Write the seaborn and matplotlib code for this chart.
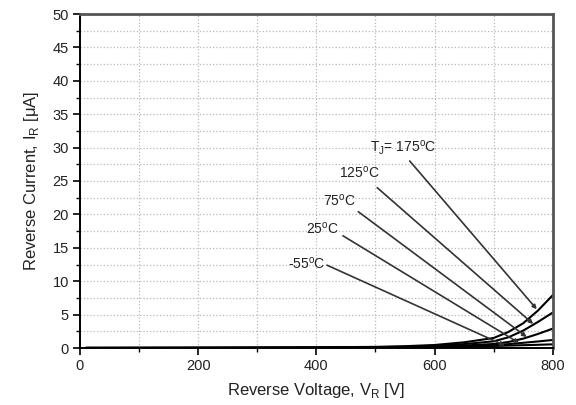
import matplotlib
matplotlib.use("Agg")
import matplotlib.pyplot as plt
from matplotlib.ticker import MultipleLocator
import numpy as np
import pandas as pd
import seaborn as sns

# ---- data ----
voltage = [10, 100, 200, 300, 400, 500, 550, 600, 650, 700, 725, 750, 775, 800]
temps = ["175", "125", "75", "25", "-55"]
ir_175 = [0.02, 0.03, 0.05, 0.07, 0.10, 0.17, 0.27, 0.45, 0.85, 1.5, 2.4, 3.7, 5.6, 7.9]
ir_125 = [0.01, 0.02, 0.03, 0.05, 0.07, 0.12, 0.19, 0.32, 0.58, 1.0, 1.6, 2.6, 3.9, 5.3]
ir_75 = [0.01, 0.015, 0.02, 0.03, 0.05, 0.09, 0.14, 0.22, 0.37, 0.6, 0.9, 1.4, 2.1, 2.9]
ir_25 = [0.01, 0.012, 0.015, 0.02, 0.035, 0.06, 0.10, 0.16, 0.26, 0.4, 0.58, 0.78, 0.98, 1.2]
ir_m55 = [0.005, 0.01, 0.012, 0.016, 0.03, 0.05, 0.08, 0.13, 0.2, 0.3, 0.36, 0.42, 0.48, 0.55]
labels = [r"T$_\mathregular{J}$= 175$^\mathregular{o}$C", r"125$^\mathregular{o}$C",
          r"75$^\mathregular{o}$C", r"25$^\mathregular{o}$C", r"-55$^\mathregular{o}$C"]

series = [ir_175, ir_125, ir_75, ir_25, ir_m55]
df = pd.DataFrame({
    "V": voltage * len(temps),
    "I": sum(series, []),
    "T": sum([[t] * len(voltage) for t in temps], []),
})

# ---- layout of annotations (label anchor, line start, arrow tip) ----
label_xy = [(490, 29.9), (438, 26.2), (411, 22.05), (382, 17.8), (352, 12.7)]
line_start = [(558, 28.0), (503, 24.0), (471, 20.4), (445, 16.8), (418, 12.4)]
line_end = [(773, 5.8), (767, 3.6), (756, 1.65), (743, 0.75), (719, 0.37)]

sns.set_style("white")
plt.rcParams["font.family"] = ["Liberation Sans", "DejaVu Sans"]
plt.rcParams["mathtext.fontset"] = "custom"
plt.rcParams["mathtext.rm"] = "Liberation Sans"

fig = plt.figure(figsize=(5.76, 4.05), dpi=100)
ax = fig.add_axes([80 / 576, 1 - 348 / 405, (552.7 - 80) / 576, (348 - 14) / 405])

sns.lineplot(data=df, x="V", y="I", hue="T", palette=["black"] * 5,
             linewidth=1.5, legend=False, ax=ax, estimator=None, sort=True)

ax.set_xlim(0, 800)
ax.set_ylim(0, 50)
ax.xaxis.set_major_locator(MultipleLocator(200))
ax.xaxis.set_minor_locator(MultipleLocator(100))
ax.yaxis.set_major_locator(MultipleLocator(5))
ax.yaxis.set_minor_locator(MultipleLocator(2.5))
ax.grid(True, which="both", linestyle=":", color="#b8b8b8", linewidth=0.9)
ax.set_axisbelow(True)

ax.tick_params(axis="both", which="major", direction="out", length=5, width=1.2,
               color="black", labelsize=10.5, labelcolor="#222222", left=True, bottom=True,
               pad=3)
ax.tick_params(axis="both", which="minor", direction="out", length=3, width=1.0,
               color="black", left=True, bottom=True)

for s in ["left", "bottom"]:
    ax.spines[s].set_color("black")
    ax.spines[s].set_linewidth(1.4)
for s in ["top", "right"]:
    ax.spines[s].set_color("#555555")
    ax.spines[s].set_linewidth(2.0)

ax.set_xlabel(r"Reverse Voltage, V$_\mathregular{R}$ [V]", fontsize=12, color="#222222", labelpad=6)
ax.set_ylabel(r"Reverse Current, I$_\mathregular{R}$ [μA]", fontsize=12, color="#222222", labelpad=8)

for lab, lxy, ls, le in zip(labels, label_xy, line_start, line_end):
    ax.text(lxy[0], lxy[1], lab, fontsize=10, color="#222222", ha="left", va="center")
    ax.annotate("", xy=le, xytext=ls,
                arrowprops=dict(arrowstyle="-|>", color="#333333", lw=1.2,
                                mutation_scale=6, shrinkA=0, shrinkB=0))

fig.savefig("out.png", dpi=100)
